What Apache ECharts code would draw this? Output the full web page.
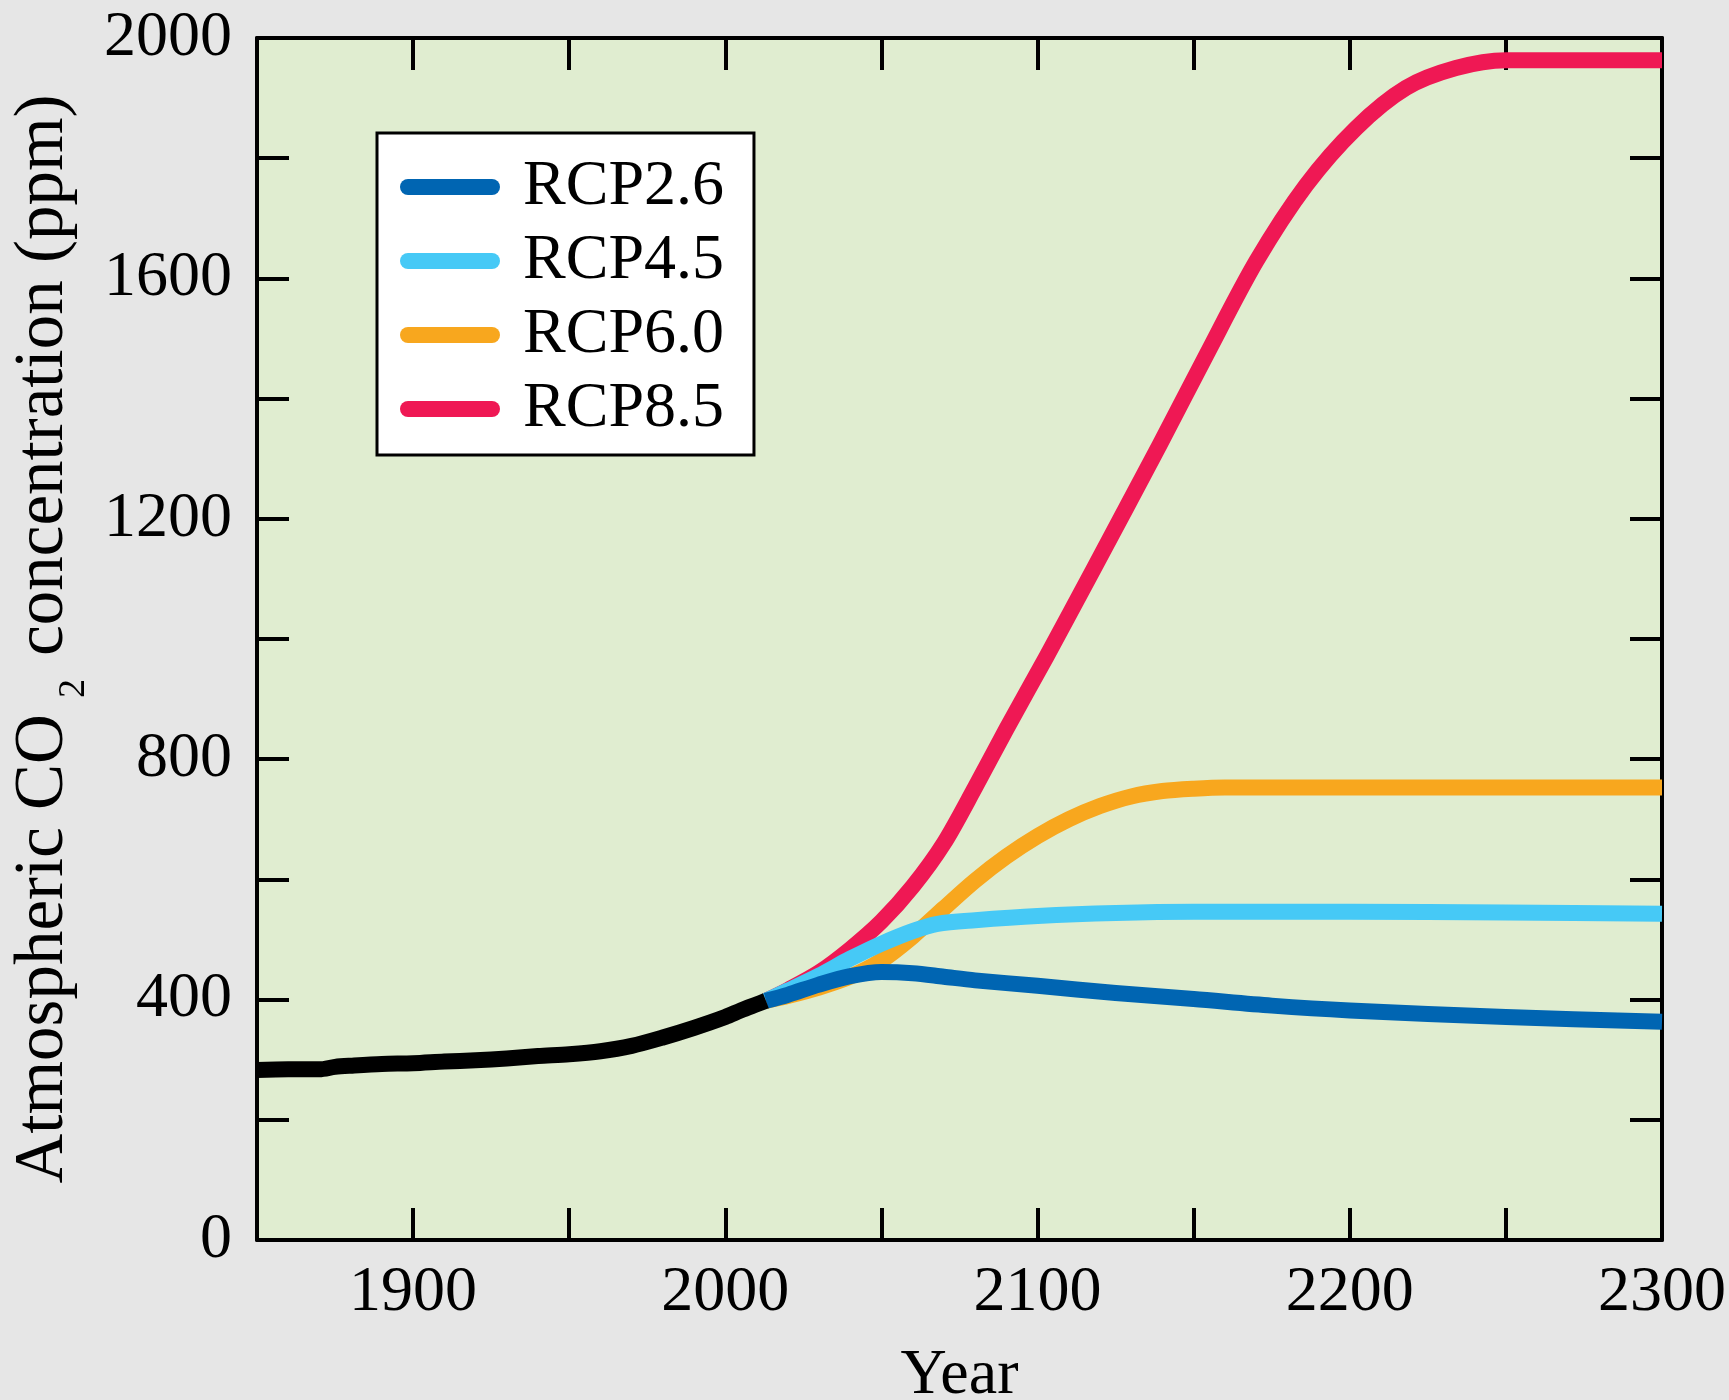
<!DOCTYPE html>
<html lang="en">
<head>
  <meta charset="utf-8">
  <title>Atmospheric CO2 concentration - RCP scenarios</title>
  <style>
    body {
      margin: 0;
      background: #e6e6e6;
    }
    #container {
      width: 1729px;
      height: 1400px;
    }
  </style>
</head>
<body>
  <div id="container"></div>

  <script type="text/javascript" src="https://fastly.jsdelivr.net/npm/echarts@6/dist/echarts.min.js"></script>

  <script type="text/javascript">
    // historical record (year, ppm)
    var histYears = [1850, 1860, 1870, 1875, 1880, 1890, 1900, 1910, 1920, 1930, 1940, 1950, 1960, 1970, 1980, 1990, 2000, 2005, 2010, 2013];
    var histCO2 = [283, 284, 284, 288, 290, 293, 294, 297, 299, 302, 306, 309, 314, 323, 337, 353, 371, 382, 392, 398];

    // scenarios
    var rcp26Years = [2013, 2020, 2030, 2040, 2050, 2060, 2070, 2080, 2100, 2125, 2150, 2175, 2200, 2250, 2300];
    var rcp26CO2 = [398, 408, 425, 439, 446, 444, 438, 432, 423, 411, 401, 390, 382, 371, 363];

    var rcp45Years = [2013, 2020, 2030, 2040, 2050, 2060, 2068, 2080, 2100, 2125, 2150, 2200, 2250, 2300];
    var rcp45CO2 = [398, 415, 440, 468, 493, 514, 526, 532, 539, 544, 546, 546, 545, 543];

    var rcp60Years = [2013, 2020, 2030, 2040, 2050, 2060, 2070, 2080, 2090, 2100, 2110, 2120, 2130, 2140, 2150, 2160, 2300];
    var rcp60CO2 = [398, 406, 420, 438, 465, 505, 552, 598, 638, 672, 700, 722, 738, 747, 751, 753, 753];

    var rcp85Years = [2013, 2020, 2030, 2040, 2050, 2060, 2070, 2080, 2090, 2103, 2118, 2139, 2154, 2170, 2186, 2202, 2218, 2234, 2250, 2300];
    var rcp85CO2 = [398, 416, 445, 484, 530, 588, 660, 753, 850, 972, 1117, 1322, 1472, 1628, 1755, 1850, 1917, 1950, 1963, 1963];

    var scenarioNames = ['RCP2.6', 'RCP4.5', 'RCP6.0', 'RCP8.5'];

    var FONT = 'Liberation Serif';

    function pairs(xs, ys) {
      var out = [];
      for (var i = 0; i < xs.length; i++) out.push([xs[i], ys[i]]);
      return out;
    }

    function lineSeries(name, data, color) {
      return {
        name: name,
        type: 'line',
        data: data,
        showSymbol: false,
        smooth: 0.3,
        color: color,
        itemStyle: { color: color },
        lineStyle: { color: color, width: 16, join: 'round' },
        emphasis: { disabled: true }
      };
    }

    var dom = document.getElementById('container');
    var myChart = echarts.init(dom, null, { renderer: 'canvas' });

    var tickStyle = { color: '#000', width: 4 };

    var option = {
      backgroundColor: '#e6e6e6',
      animation: false,
      grid: {
        left: 257,
        right: 67,
        top: 38,
        bottom: 160,
        show: true,
        backgroundColor: '#e0edd0',
        borderWidth: 0,
        outerBoundsMode: 'none'
      },
      legend: {
        data: scenarioNames,
        orient: 'vertical',
        left: 377,
        top: 133,
        padding: [22, 30, 14, 23],
        itemGap: 10,
        itemWidth: 100,
        itemHeight: 16,
        icon: 'path://M8,0 L92,0 A8,8 0 0 1 92,16 L8,16 A8,8 0 0 1 8,0 Z',
        itemStyle: { borderWidth: 0 },
        backgroundColor: '#ffffff',
        borderColor: '#000',
        borderWidth: 3,
        selectedMode: false,
        textStyle: {
          fontFamily: FONT,
          fontSize: 64,
          lineHeight: 64,
          color: '#000',
          padding: [0, 0, 0, 18]
        }
      },
      xAxis: [
        {
          type: 'value',
          position: 'bottom',
          min: 1850,
          max: 2300,
          interval: 50,
          name: 'Year',
          nameLocation: 'middle',
          nameGap: 104,
          nameTextStyle: { fontFamily: FONT, fontSize: 64, lineHeight: 64, color: '#000' },
          axisLine: { show: true, onZero: false, lineStyle: tickStyle },
          axisTick: { show: true, inside: true, length: 32, lineStyle: tickStyle },
          axisLabel: {
            fontFamily: FONT, fontSize: 64, lineHeight: 64, color: '#000', margin: 21,
            formatter: function (v) { return (v % 100 === 0 && v > 1850) ? String(v) : ''; }
          },
          splitLine: { show: false }
        },
        {
          type: 'value',
          position: 'top',
          min: 1850,
          max: 2300,
          interval: 50,
          axisLine: { show: true, onZero: false, lineStyle: tickStyle },
          axisTick: { show: true, inside: true, length: 32, lineStyle: tickStyle },
          axisLabel: { show: false },
          splitLine: { show: false }
        }
      ],
      yAxis: [
        {
          type: 'value',
          position: 'left',
          min: 0,
          max: 2000,
          interval: 200,
          name: '{a|Atmospheric CO}{s|2}{a| concentration (ppm)}',
          nameLocation: 'middle',
          nameGap: 168,
          nameTextStyle: {
            fontFamily: FONT,
            fontSize: 69,
            color: '#000',
            rich: {
              a: { fontFamily: FONT, fontSize: 69, lineHeight: 69, color: '#000', verticalAlign: 'top' },
              s: { fontFamily: FONT, fontSize: 38, lineHeight: 38, color: '#000', verticalAlign: 'top', padding: [46, 6, 0, 16] }
            }
          },
          axisLine: { show: true, onZero: false, lineStyle: tickStyle },
          axisTick: { show: true, inside: true, length: 32, lineStyle: tickStyle },
          axisLabel: {
            fontFamily: FONT, fontSize: 64, color: '#000', margin: 25,
            formatter: function (v) { return v % 400 === 0 ? String(v) : ''; }
          },
          splitLine: { show: false }
        },
        {
          type: 'value',
          position: 'right',
          min: 0,
          max: 2000,
          interval: 200,
          axisLine: { show: true, onZero: false, lineStyle: tickStyle },
          axisTick: { show: true, inside: true, length: 32, lineStyle: tickStyle },
          axisLabel: { show: false },
          splitLine: { show: false }
        }
      ],
      series: [
        lineSeries('RCP8.5', pairs(rcp85Years, rcp85CO2), '#ef1854'),
        lineSeries('RCP6.0', pairs(rcp60Years, rcp60CO2), '#f8a71e'),
        lineSeries('RCP4.5', pairs(rcp45Years, rcp45CO2), '#46c9f6'),
        lineSeries('RCP2.6', pairs(rcp26Years, rcp26CO2), '#0065b2'),
        lineSeries('Historical', pairs(histYears, histCO2), '#000000')
      ]
    };

    myChart.setOption(option);
    window.addEventListener('resize', myChart.resize);
  </script>
</body>
</html>
